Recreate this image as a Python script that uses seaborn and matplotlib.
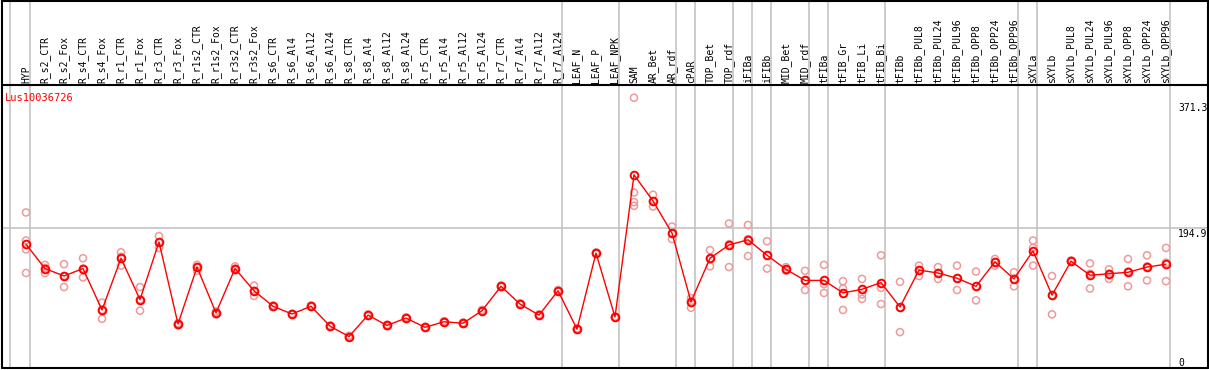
import numpy as np
import pandas as pd
import matplotlib
matplotlib.use("Agg")
import matplotlib.pyplot as plt
import seaborn as sns
from matplotlib.transforms import blended_transform_factory
from matplotlib.lines import Line2D

gene = "Lus10036726"
categories = [
    "HYP", "R_s2_CTR", "R_s2_Fox", "R_s4_CTR", "R_s4_Fox", "R_r1_CTR", "R_r1_Fox",
    "R_r3_CTR", "R_r3_Fox", "R_r1s2_CTR", "R_r1s2_Fox", "R_r3s2_CTR", "R_r3s2_Fox",
    "R_s6_CTR", "R_s6_Al4", "R_s6_Al12", "R_s6_Al24", "R_s8_CTR", "R_s8_Al4",
    "R_s8_Al12", "R_s8_Al24", "R_r5_CTR", "R_r5_Al4", "R_r5_Al12", "R_r5_Al24",
    "R_r7_CTR", "R_r7_Al4", "R_r7_Al12", "R_r7_Al24", "LEAF_N", "LEAF_P", "LEAF_NPK",
    "SAM", "AR_Bet", "AR_rdf", "cPAR", "TOP_Bet", "TOP_rdf", "iFIBa", "iFIBb",
    "MID_Bet", "MID_rdf", "tFIBa", "tFIB_Gr", "tFIB_Li", "tFIB_Bi", "tFIBb",
    "tFIBb_PUL8", "tFIBb_PUL24", "tFIBb_PUL96", "tFIBb_OPP8", "tFIBb_OPP24",
    "tFIBb_OPP96", "sXYLa", "sXYLb", "sXYLb_PUL8", "sXYLb_PUL24", "sXYLb_PUL96",
    "sXYLb_OPP8", "sXYLb_OPP24", "sXYLb_OPP96",
]
means = [
    173, 140, 130, 140, 84, 154, 98, 176, 65, 142, 80, 140, 110,
    89, 78.5, 89, 62, 48, 77, 63, 73, 60.5, 68, 66, 83, 116, 92, 77, 110,
    58, 161, 74.5,
    267, 231.5, 188, 95, 154, 172, 179, 158, 139, 124, 124, 107, 112, 121, 88,
    138, 134, 127, 116, 149, 126, 164, 104, 150, 131, 133, 135, 142, 146,
]
replicates = [
    [216, 178, 166, 134], [145, 141, 134], [146, 130, 115], [154, 140, 128],
    [94, 84, 72], [162, 156, 144], [115, 98, 83], [184, 175, 168], [66, 64, 63],
    [145, 142, 137], [82, 80, 78], [143, 140, 138], [117, 110, 103],
    [90, 89, 88], [79, 78, 78], [90, 89, 88], [63, 62, 61], [49, 48, 47],
    [78, 77, 76], [64, 63, 62], [74, 73, 72], [61, 60, 60], [69, 68, 67],
    [67, 66, 65], [84, 83, 82], [117, 116, 115], [93, 92, 91], [78, 77, 76],
    [111, 110, 109], [59, 58, 57], [162, 161, 160], [75, 74, 74],
    [371.3, 243, 230, 225], [240, 231, 224], [197, 187, 180], [100, 96, 87],
    [165, 153, 143], [201, 173, 142], [199, 180, 157], [177, 158, 140],
    [142, 139, 137], [137, 124, 111], [145, 119, 107], [123, 113, 84],
    [126, 105, 99], [158, 114, 92], [122, 87, 54], [144, 138, 130],
    [142, 134, 126], [144, 127, 111], [136, 116, 97], [153, 149, 144],
    [135, 126, 116], [178, 168, 144], [130, 104, 78], [151, 150, 150],
    [147, 133, 113], [139, 133, 126], [153, 136, 116], [158, 143, 124],
    [168, 148, 123],
]
group_ends = [0, 28, 31, 34, 35, 37, 38, 39, 41, 42, 45, 52, 53, 60]
axis_labels = ["371.3", "194.9", "0"]
grid_value = 194.9

W, H = 1209, 370
sns.set_style("white")
plt.rcParams["font.family"] = ["DejaVu Sans Mono"]

fig = plt.figure(figsize=(W / 100, H / 100), dpi=100)
ax = fig.add_axes([2 / W, 2 / H, 1168 / W, 282 / H])

xs = np.arange(len(categories))
mean_df = pd.DataFrame({"x": xs, "v": means, "cat": categories})
rep_df = pd.DataFrame(
    [(i, v) for i, reps in enumerate(replicates) for v in reps], columns=["x", "v"]
)

grid_col = "#c4c4c4"
ax.axhline(grid_value, xmin=0, xmax=(1208 - 2) / 1168, color=grid_col, lw=1.2,
           clip_on=False, zorder=0)

bt = blended_transform_factory(ax.transData, fig.transFigure)
for g in [-0.826] + [e + 0.226 for e in group_ends]:
    fig.add_artist(Line2D([g, g], [2 / H, 1], transform=bt, color=grid_col, lw=1.2,
                          zorder=0))

sns.scatterplot(data=rep_df, x="x", y="v", ax=ax, marker="o", s=26,
                facecolor="none", edgecolor="#ee9a9a", linewidth=1.1, zorder=2,
                legend=False)
sns.lineplot(data=mean_df, x="x", y="v", ax=ax, color="#ff0000", lw=1.0,
             marker="o", markersize=5.5, markerfacecolor="none",
             markeredgecolor="#ff0000", markeredgewidth=1.4, zorder=3)

ax.set_xlim(-24 / 19, 1144 / 19)
ax.set_ylim(5.4, 387.2)
ax.set_xlabel("")
ax.set_ylabel("")
ax.set_xticks([])
ax.set_yticks([])
for s in ax.spines.values():
    s.set_visible(False)
ax.patch.set_alpha(0)

for i, c in enumerate(categories):
    ax.text(i, 1 - 83 / H, c, transform=bt, rotation=90, ha="center", va="bottom",
            fontsize=7, color="black", clip_on=False)

fig.text(5 / W, 1 - 93 / H, gene, color="#ff0000", fontsize=7.5, ha="left", va="top")

for lab, ytop in zip(axis_labels, [103, 229, 358]):
    fig.text(1178 / W, 1 - ytop / H, lab, fontsize=7, ha="left", va="top",
             color="black")

fk = dict(color="black", lw=1.5, transform=fig.transFigure)
fig.add_artist(Line2D([2 / W, 2 / W], [2 / H, 1], **fk))
fig.add_artist(Line2D([1208 / W, 1208 / W], [2 / H, 1], **fk))
fig.add_artist(Line2D([2 / W, 1208 / W], [1 - 0.5 / H, 1 - 0.5 / H], **fk))
fig.add_artist(Line2D([2 / W, 1208 / W], [2 / H, 2 / H], **fk))
fig.add_artist(Line2D([2 / W, 1208 / W], [1 - 85 / H, 1 - 85 / H], **fk))

fig.savefig("out.png", dpi=100)
